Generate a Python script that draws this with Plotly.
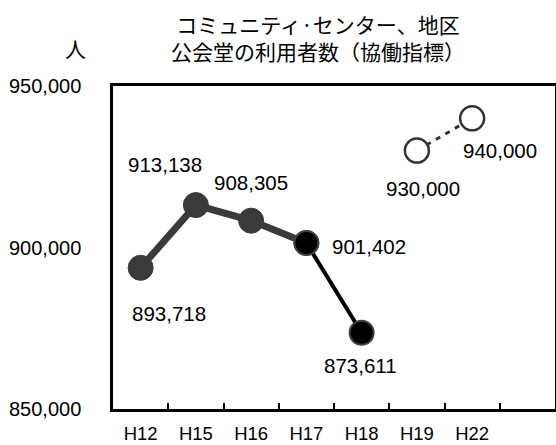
import plotly.graph_objects as go

years = ["H12", "H15", "H16", "H17", "H18", "H19", "H22"]
slots = years + [" "]
actual = [893718, 913138, 908305, 901402, 873611]
target = [930000, 940000]
y_ticks = [850000, 900000, 950000]
y_tick_text = ["850,000", "900,000", "950,000"]

FONT = "Liberation Sans, Arial, Noto Sans CJK JP, sans-serif"
JFONT = "Noto Sans CJK JP, Liberation Sans, sans-serif"

fig = go.Figure()

# Target (hollow, dashed)
fig.add_trace(go.Scatter(
    x=years[5:7], y=target, mode="lines+markers",
    line=dict(color="#333333", width=3, dash="5px,6px"),
    marker=dict(size=24, color="white", line=dict(color="#333333", width=2.5)),
    cliponaxis=False, showlegend=False))

# Actual, gray segment
fig.add_trace(go.Scatter(
    x=years[0:4], y=actual[0:4], mode="lines+markers",
    line=dict(color="#3a3a3a", width=7),
    marker=dict(size=25, color="#3a3a3a", line=dict(color="#3a3a3a", width=1)),
    cliponaxis=False, showlegend=False))

# Actual, black segment
fig.add_trace(go.Scatter(
    x=years[3:5], y=actual[3:5], mode="lines+markers",
    line=dict(color="#000000", width=4),
    marker=dict(size=24, color="#000000", line=dict(color="#404040", width=2)),
    cliponaxis=False, showlegend=False))

# Data labels: (xshift, yshift)
label_shifts = [(28, -46), (-31, 41), (0, 38), (63, -4), (-1, -33)]
for (xs, ys), yr, v in zip(label_shifts, years[:5], actual):
    fig.add_annotation(x=yr, y=v, text=f"{v:,}", showarrow=False,
                       xshift=xs, yshift=ys, font=dict(size=20.5, color="#000", family=FONT))
target_shifts = [(6, -38), (28, -32)]
for (xs, ys), yr, v in zip(target_shifts, years[5:7], target):
    fig.add_annotation(x=yr, y=v, text=f"{v:,}", showarrow=False,
                       xshift=xs, yshift=ys, font=dict(size=20.5, color="#000", family=FONT))

# Title and unit
fig.add_annotation(xref="paper", yref="paper", x=(318 - 113) / 442, y=1 + (86 - 37) / 323,
                   text="コミュニティ·センター、地区<br>公会堂の利用者数（協働指標）",
                   showarrow=False, xanchor="center", yanchor="middle", align="center",
                   font=dict(size=21, color="#000", family=JFONT))
fig.add_annotation(xref="paper", yref="paper", x=(75 - 113) / 442, y=1 + (86 - 48) / 323,
                   text="人", showarrow=False, xanchor="center", yanchor="middle",
                   font=dict(size=21, color="#000", family=JFONT))

fig.update_layout(
    width=556, height=445,
    margin=dict(l=113, r=1, t=86, b=36, autoexpand=False),
    paper_bgcolor="white", plot_bgcolor="white",
    font=dict(family=FONT, size=19, color="#000"),
    xaxis=dict(type="category", categoryorder="array", categoryarray=slots,
               range=[-0.5, 7.5], tickson="boundaries", ticks="inside",
               ticklen=6, tickwidth=2, tickcolor="#000",
               showline=True, linecolor="#000", linewidth=2.5, mirror=True,
               showgrid=False, zeroline=False, ticklabelstandoff=6,
               automargin=False, tickfont=dict(size=18.5, family=FONT)),
    yaxis=dict(range=[850000, 950000], tickvals=y_ticks, ticktext=y_tick_text,
               ticks="", showline=True, linecolor="#000", linewidth=2.5, mirror=True,
               showgrid=False, zeroline=False, ticklabelstandoff=25,
               automargin=False, tickfont=dict(size=20, family=FONT)),
)

fig.write_html("out.html")
